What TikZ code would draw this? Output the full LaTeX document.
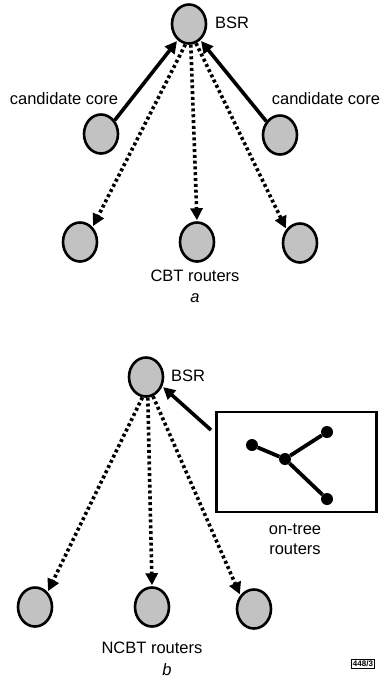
\documentclass[tikz,border=0pt]{standalone}
\usepackage{fontspec}
\setmainfont{Liberation Sans}
\usetikzlibrary{arrows.meta,shapes.geometric}
\begin{document}
\begin{tikzpicture}[x=1pt,y=-1pt,
  router/.style={draw=black,line width=2.6pt,fill=black!24,ellipse,minimum width=34pt,minimum height=39pt,inner sep=0pt},
  lbl/.style={font=\fontsize{16.5}{19.5}\selectfont,inner sep=0pt},
  probe/.style={line width=3.6pt,dash pattern=on 3pt off 2.8pt,-{Triangle[length=12pt,width=12pt]},shorten >=1pt},
  report/.style={line width=3.6pt,-{Triangle[length=12pt,width=12pt]},shorten >=1pt},
  treeedge/.style={line width=3.8pt},
  treedot/.style={circle,fill=black,minimum size=12pt,inner sep=0pt}]
\useasboundingbox (0,0) rectangle (381,683);
% ---------- panel a ----------
\node[router] (bsrA) at (189,24) {};
\node[lbl] (bsrAl) at (232,23) {BSR};
\node[router] (candL) at (101,134) {};
\node[router] (candR) at (280,135) {};
\node[lbl] (candLl) at (64,99) {candidate core};
\node[lbl] (candRl) at (326,99) {candidate core};
\node[router] (rA1) at (80,242) {};
\node[router] (rA2) at (197,242) {};
\node[router] (rA3) at (300,243) {};
\node[lbl] (cbt) at (195,276) {CBT routers};
\node[lbl] (capa) at (195,298) {\itshape a};
\draw[report] (candL.45) -- (bsrA.235);
\draw[report] (candR.135) -- (bsrA.305);
\draw[probe] (bsrA.260) -- (rA1.50);
\draw[probe] (bsrA.275) -- (rA2.90);
\draw[probe] (bsrA.290) -- (rA3.135);
% ---------- panel b ----------
\node[router] (bsrB) at (146,377) {};
\node[lbl] (bsrBl) at (188,376) {BSR};
\node[draw=black,line width=2.6pt,minimum width=160pt,minimum height=100pt,inner sep=0pt] (box) at (296.5,462) {};
\node[treedot] (t1) at (252,445) {};
\node[treedot] (t2) at (285,459) {};
\node[treedot] (t3) at (327,432) {};
\node[treedot] (t4) at (327,499) {};
\draw[treeedge] (t1) -- (t2) -- (t3);
\draw[treeedge] (t2) -- (t4);
\node[lbl,align=center] (ontree) at (295,539) {on-tree\\routers};
\coordinate (boxtail) at (211,430);
\draw[report] (boxtail) -- (bsrB.330);
\node[router] (rB1) at (35,607) {};
\node[router] (rB2) at (152,607) {};
\node[router] (rB3) at (254,609) {};
\node[lbl] (ncbt) at (152,648) {NCBT routers};
\node[lbl] (capb) at (167,670) {\itshape b};
\draw[probe] (bsrB.260) -- (rB1.50);
\draw[probe] (bsrB.275) -- (rB2.90);
\draw[probe] (bsrB.290) -- (rB3.135);
\node[draw=black,line width=1pt,inner sep=1.2pt,font=\fontsize{8}{9}\selectfont\bfseries] (fig) at (363,664) {448/3};
\end{tikzpicture}
\end{document}
